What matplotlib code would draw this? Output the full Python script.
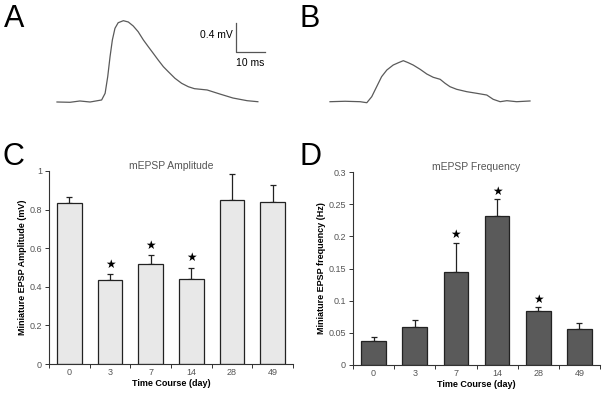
#!/usr/bin/env python3

import matplotlib
matplotlib.use('Agg')
import matplotlib.pyplot as plt
import numpy as np

plt.rcParams['font.family'] = ['Liberation Sans', 'DejaVu Sans']

# mEPSP traces (ms from trace start, mV above baseline)
trace_a_t = [0, 4.5, 7.9, 11.4, 15.4, 16.6, 17.5, 18.3, 19.1, 20.0, 21.1, 22.9, 24.6,
             26.3, 28.0, 29.8, 31.5, 33.2, 34.9, 36.7, 38.4, 40.7, 43.0, 45.3, 47.4,
             51.8, 56.2, 60.7, 65.6, 69.3]
trace_a_v = [0, -0.004, 0.014, 0, 0.028, 0.12, 0.35, 0.625, 0.856, 1.017, 1.094, 1.122, 1.104,
             1.049, 0.970, 0.856, 0.763, 0.672, 0.580, 0.487, 0.418, 0.327, 0.258, 0.211, 0.184,
             0.166, 0.11, 0.055, 0.018, 0.004]
trace_b_t = [0, 5.2, 10.4, 12.7, 14.4, 16.1, 17.8, 19.6, 21.8, 23.6, 25.3, 27.0, 28.7,
             31.1, 33.4, 35.6, 38.0, 39.7, 41.4, 43.7, 47.2, 50.6, 54.1, 56.3, 58.7,
             61.0, 64.4, 69.0]
trace_b_v = [0, 0.006, 0, -0.014, 0.069, 0.207, 0.345, 0.437, 0.506, 0.538, 0.566, 0.538, 0.506,
             0.447, 0.382, 0.337, 0.309, 0.254, 0.207, 0.171, 0.138, 0.116, 0.092, 0.033, 0,
             0.014, 0, 0.01]

# bar charts
days = ['0', '3', '7', '14', '28', '49']
amp_mean = [0.836, 0.434, 0.517, 0.44, 0.848, 0.841]
amp_top = [0.867, 0.466, 0.565, 0.50, 0.983, 0.927]
amp_sig = [False, True, True, True, False, False]
freq_mean = [0.0373, 0.0596, 0.145, 0.231, 0.0845, 0.0565]
freq_top = [0.044, 0.070, 0.190, 0.2575, 0.0896, 0.065]
freq_sig = [False, False, True, True, True, False]

W, H = 604, 400
fig = plt.figure(figsize=(W / 100, H / 100), dpi=100)

ms_px = 0.345   # ms per pixel
mv_px = 0.0138  # mV per pixel


def trace_axes(x0, start_px, base_px, t, v):
    ax = fig.add_axes([x0 / W, (H - 140) / H, 300 / W, 140 / H])
    ax.set_xlim(-start_px * ms_px, (300 - start_px) * ms_px)
    ax.set_ylim(-(140 - base_px) * mv_px, base_px * mv_px)
    ax.plot(t, v, color='#5a5a5a', lw=0.9)
    ax.axis('off')
    return ax


ax_a = trace_axes(0, 57, 102, trace_a_t, trace_a_v)
trace_axes(300, 30, 101.7, trace_b_t, trace_b_v)

# scale bar
ax_a.plot([61.8, 61.8, 71.8], [1.094, 0.694, 0.694], color='#555555', lw=0.9)
ax_a.text(60.6, 0.93, '0.4 mV', ha='right', va='center', fontsize=7.5)
ax_a.text(66.8, 0.54, '10 ms', ha='center', va='center', fontsize=7.5)


def bar_panel(rect, means, tops, sig, color, yticks, ylim, ylabel, title, star_off):
    ax = fig.add_axes(rect)
    x = np.arange(len(days))
    ax.bar(x, means, width=0.6, color=color, edgecolor='#222222', linewidth=0.9, zorder=2)
    up = np.array(tops) - np.array(means)
    ax.errorbar(x, means, yerr=[np.zeros(len(x)), up], fmt='none', ecolor='#222222',
                elinewidth=0.9, capsize=2, capthick=0.9, zorder=1)
    for i in range(len(x)):
        if sig[i]:
            ax.annotate('\u2605', (x[i], tops[i]), xytext=(0, star_off),
                        textcoords='offset points', ha='center', va='center',
                        fontsize=8.5, family='DejaVu Sans')
    ax.set_xlim(-0.5, len(x) - 0.5)
    ax.set_ylim(*ylim)
    ax.set_yticks(yticks)
    ax.set_yticklabels([('%g' % t) for t in yticks])
    ax.set_xticks(x)
    ax.set_xticklabels(days)
    ax.set_xticks(np.arange(-0.5, len(x)), minor=True)
    ax.tick_params(axis='x', which='major', length=0, pad=3)
    ax.tick_params(axis='x', which='minor', length=3, width=0.7, color='#333333')
    ax.tick_params(axis='y', length=3, width=0.7, color='#333333', pad=2)
    ax.tick_params(labelsize=6.5, labelcolor='#555555')
    for s in ['top', 'right']:
        ax.spines[s].set_visible(False)
    for s in ['left', 'bottom']:
        ax.spines[s].set_color('#333333')
        ax.spines[s].set_linewidth(0.8)
    ax.set_xlabel('Time Course (day)', fontsize=6.5, fontweight='bold', labelpad=1)
    ax.set_ylabel(ylabel, fontsize=6.5, fontweight='bold', labelpad=2)
    ax.set_title(title, fontsize=7.5, color='#555555', pad=0)
    return ax


bar_panel([49 / W, 36 / H, 244 / W, 193 / H], amp_mean, amp_top, amp_sig, '#e8e8e8',
          [0, 0.2, 0.4, 0.6, 0.8, 1], (0, 1), 'Miniature EPSP Amplitude (mV)',
          'mEPSP Amplitude', 7)
bar_panel([353 / W, 35 / H, 247 / W, 193 / H], freq_mean, freq_top, freq_sig, '#5a5a5a',
          [0, 0.05, 0.1, 0.15, 0.2, 0.25, 0.3], (0, 0.3), 'Miniature EPSP frequency (Hz)',
          'mEPSP Frequency', 6)

# panel letters
for letter, px, py in [('A', 4, 19), ('B', 299, 19), ('C', 2, 157), ('D', 299, 157)]:
    fig.text(px / W, 1 - py / H, letter, fontsize=22, ha='left', va='center')

fig.savefig('out.png', dpi=100)
